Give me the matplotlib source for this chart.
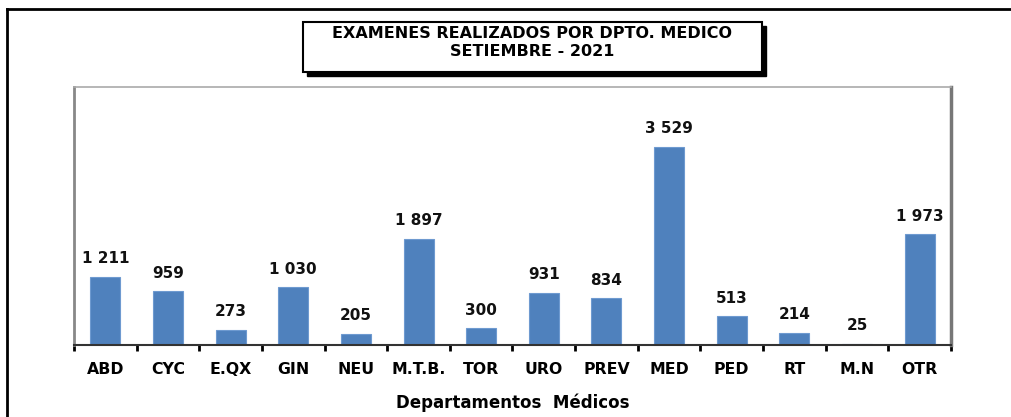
import matplotlib
matplotlib.use("Agg")
import matplotlib.pyplot as plt
from matplotlib.patches import Rectangle
import numpy as np

categories = ["ABD", "CYC", "E.QX", "GIN", "NEU", "M.T.B.", "TOR", "URO", "PREV", "MED", "PED", "RT", "M.N", "OTR"]
values = [1211, 959, 273, 1030, 205, 1897, 300, 931, 834, 3529, 513, 214, 25, 1973]
title_lines = ["EXAMENES REALIZADOS POR DPTO. MEDICO", "SETIEMBRE - 2021"]
xlabel = "Departamentos  Médicos"

plt.rcParams['font.family'] = ['DejaVu Sans']

W, H = 1012, 417
fig = plt.figure(figsize=(W/100, H/100), dpi=100)

# outer frame
fig.add_artist(plt.Line2D([7/W, 7/W], [0, 1 - 9/H], color="black", lw=2, transform=fig.transFigure))
fig.add_artist(plt.Line2D([7/W, 1], [1 - 9/H, 1 - 9/H], color="black", lw=2, transform=fig.transFigure))

left, right, top, bottom = 74, 951, 87, 345
ax = fig.add_axes([left/W, 1 - bottom/H, (right-left)/W, (bottom-top)/H])

def fmt(v):
    return f"{v:,}".replace(",", " ")

x = np.arange(len(categories))
ax.bar(x, values, width=0.48, color="#4F81BD", edgecolor="#6E9AD0", linewidth=0.8)
for xi, v in zip(x, values):
    ax.text(xi, v + 190, fmt(v), ha="center", va="bottom", fontsize=11, fontweight="bold", color="#111111")

ax.set_xlim(-0.5, len(categories) - 0.5)
ax.set_ylim(0, 4600)
ax.set_yticks([])
ax.set_xticks(x)
ax.set_xticklabels(categories, fontsize=11.3, fontweight="bold")
ax.tick_params(axis="x", length=0, pad=12)
ax.set_xticks(np.arange(-0.5, len(categories)), minor=True)
ax.tick_params(axis="x", which="minor", length=4, width=2, color="black", direction="out")

ax.spines["left"].set_color("#888888")
ax.spines["left"].set_linewidth(2)
ax.spines["right"].set_color("#777777")
ax.spines["right"].set_linewidth(2.5)
ax.spines["top"].set_color("#aaaaaa")
ax.spines["top"].set_linewidth(1.2)
ax.spines["bottom"].set_color("#333333")
ax.spines["bottom"].set_linewidth(1.5)

ax.set_xlabel(xlabel, fontsize=12, fontweight="bold", labelpad=12)

# title box with shadow
bx0, by0, bx1, by1 = 303, 22, 762, 72
fig.add_artist(Rectangle((bx0/W + 4/W, 1 - (by1+4)/H), (bx1-bx0)/W, (by1-by0)/H,
                         transform=fig.transFigure, facecolor="black", edgecolor="black", zorder=5))
fig.add_artist(Rectangle((bx0/W, 1 - by1/H), (bx1-bx0)/W, (by1-by0)/H,
                         transform=fig.transFigure, facecolor="white", edgecolor="black", lw=1.5, zorder=6))
fig.text((bx0+bx1)/2/W, 1 - 34/H, title_lines[0], ha="center", va="center", fontsize=11.5, fontweight="bold", zorder=7)
fig.text((bx0+bx1)/2/W, 1 - 52/H, title_lines[1], ha="center", va="center", fontsize=11.5, fontweight="bold", zorder=7)

fig.savefig("out.png", dpi=100)
